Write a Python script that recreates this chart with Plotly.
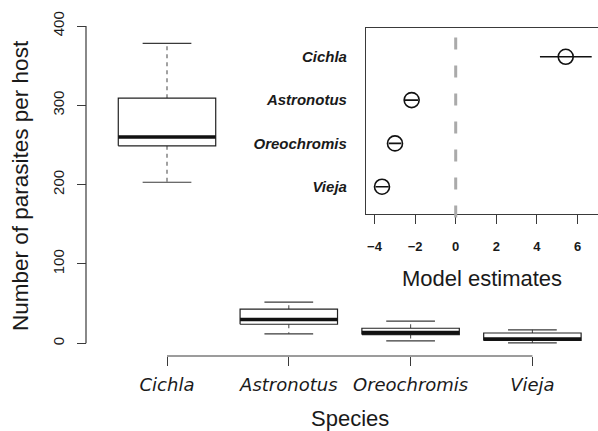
import plotly.graph_objects as go

# ---------------- data ----------------
species = ["Cichla", "Astronotus", "Oreochromis", "Vieja"]
box_lower = [203, 12, 3, 0.5]
box_q1 = [249, 24, 11, 3.5]
box_median = [260, 30, 13.5, 5.5]
box_q3 = [309, 43, 19, 13]
box_upper = [378, 52, 28, 17]

inset_species = ["Cichla", "Astronotus", "Oreochromis", "Vieja"]
est = [5.42, -2.17, -2.99, -3.63]
est_lo = [4.15, -2.5, -3.3, -3.95]
est_hi = [6.7, -1.85, -2.68, -3.3]
inset_ticks = [-4, -2, 0, 2, 4, 6]
y_ticks = [0, 100, 200, 300, 400]

W, H = 598, 431
def px(x):
    return x / W
def py(y):
    return 1 - y / H

TXT = "#1a1a1a"
LINE = "#3a3a3a"
SANS = "Liberation Sans, Arial, sans-serif"

fig = go.Figure()

# ---------------- main boxplots ----------------
hw, cw = 0.4, 0.2
for i, sp in enumerate(species):
    # whiskers (dashed)
    fig.add_trace(go.Scatter(
        x=[i, i, None, i, i],
        y=[box_q3[i], box_upper[i], None, box_q1[i], box_lower[i]],
        mode="lines", line=dict(color="#555555", width=1.1, dash="4px,4px"),
        hoverinfo="skip", showlegend=False, xaxis="x", yaxis="y"))
    # caps
    fig.add_trace(go.Scatter(
        x=[i - cw, i + cw, None, i - cw, i + cw],
        y=[box_upper[i], box_upper[i], None, box_lower[i], box_lower[i]],
        mode="lines", line=dict(color=LINE, width=1.2),
        hoverinfo="skip", showlegend=False, xaxis="x", yaxis="y"))
    # box
    fig.add_trace(go.Scatter(
        x=[i - hw, i + hw, i + hw, i - hw, i - hw],
        y=[box_q1[i], box_q1[i], box_q3[i], box_q3[i], box_q1[i]],
        mode="lines", fill="toself", fillcolor="white",
        line=dict(color="#222222", width=1.2),
        hoverinfo="skip", showlegend=False, xaxis="x", yaxis="y"))
    # median
    fig.add_trace(go.Scatter(
        x=[i - hw, i + hw], y=[box_median[i], box_median[i]],
        mode="lines", line=dict(color="#111111", width=3.5),
        hoverinfo="skip", showlegend=False, xaxis="x", yaxis="y"))

# ---------------- inset: model estimates ----------------
ypos = [4, 3, 2, 1]
fig.add_trace(go.Scatter(
    x=est, y=ypos, mode="markers",
    marker=dict(symbol="circle-open", size=15, color="#111111",
                line=dict(width=1.6, color="#111111")),
    error_x=dict(type="data", symmetric=False,
                 array=[h - e for h, e in zip(est_hi, est)],
                 arrayminus=[e - l for e, l in zip(est, est_lo)],
                 width=0, thickness=1.6, color="#111111"),
    hoverinfo="skip", showlegend=False, xaxis="x2", yaxis="y2"))

# ---------------- axes geometry ----------------
x_c0, x_step = 167.0, 121.8
xr = [-x_c0 / x_step, (W - x_c0) / x_step]
y_zero, y_400 = 343.3, 26.0
ppu = (y_zero - y_400) / 400
yr = [-(H - y_zero) / ppu, y_zero / ppu]

ix_l, ix_r = 366.0, 598.0
ix_0, ix_unit = 455.7, 20.3
x2r = [(ix_l - ix_0) / ix_unit, (ix_r - ix_0) / ix_unit]
iy_top, iy_bot = 27.7, 214.0
iy_1, iy_step = 186.7, 43.3
y2r = [1 - (iy_bot - iy_1) / iy_step, 1 + (iy_1 - iy_top) / iy_step]

shapes = [
    # main x axis line
    dict(type="line", xref="x", yref="paper", x0=0, x1=len(species) - 1,
         y0=py(356), y1=py(356), line=dict(color=LINE, width=1.2)),
    # main y axis line
    dict(type="line", xref="paper", yref="y", x0=px(86), x1=px(86),
         y0=y_ticks[0], y1=y_ticks[-1], line=dict(color=LINE, width=1.2)),
    # dashed zero line in inset
    dict(type="line", xref="x2", yref="y2 domain", x0=0, x1=0,
         y0=-(217.6 - iy_bot) / (iy_bot - iy_top), y1=1,
         line=dict(color="#aaaaaa", width=3, dash="12px,16px")),
]

annotations = [
    dict(text="Species", xref="x", yref="paper",
         x=(len(species) - 1) / 2, y=py(418), xanchor="center", yanchor="middle",
         showarrow=False, font=dict(family=SANS, size=22, color=TXT)),
    dict(text="Number of parasites per host", xref="paper", yref="paper",
         x=px(20), y=py(186), xanchor="center", yanchor="middle", textangle=-90,
         showarrow=False, font=dict(family=SANS, size=22.5, color=TXT)),
]

fig.update_layout(
    width=W, height=H,
    margin=dict(l=0, r=0, t=0, b=0),
    paper_bgcolor="white", plot_bgcolor="rgba(0,0,0,0)",
    font=dict(family=SANS, color=TXT),
    showlegend=False,
    shapes=shapes,
    annotations=annotations,
    xaxis=dict(
        domain=[0, 1], range=xr, anchor="free", position=py(356),
        showline=False, showgrid=False, zeroline=False,
        tickmode="array", tickvals=list(range(len(species))), ticktext=species,
        ticks="outside", ticklen=9, tickwidth=1.2, tickcolor=LINE,
        tickfont=dict(family="DejaVu Sans", size=18, style="italic", color=TXT),
        ticklabelstandoff=3,
    ),
    yaxis=dict(
        domain=[0, 1], range=yr, anchor="free", position=px(86),
        showline=False, showgrid=False, zeroline=False,
        tickmode="array", tickvals=y_ticks,
        ticks="outside", ticklen=9, tickwidth=1.2, tickcolor=LINE,
        tickangle=-90,
        tickfont=dict(family=SANS, size=15, color=TXT),
        ticklabelstandoff=7,
    ),
    xaxis2=dict(
        domain=[px(ix_l), 1], range=x2r, anchor="y2",
        showline=True, mirror=True, linecolor=LINE, linewidth=1.2,
        showgrid=False, zeroline=False,
        tickmode="array", tickvals=inset_ticks,
        ticks="outside", ticklen=9, tickwidth=1.2, tickcolor=LINE,
        tickfont=dict(family=SANS, size=13, weight="bold", color=TXT),
        ticklabelstandoff=11,
        title=dict(text="Model estimates", font=dict(family=SANS, size=22, color=TXT),
                   standoff=17),
    ),
    yaxis2=dict(
        domain=[py(iy_bot), py(iy_top)], range=y2r, anchor="x2",
        showline=True, linecolor=LINE, linewidth=1.2,
        showgrid=False, zeroline=False,
        tickmode="array", tickvals=ypos, ticktext=inset_species,
        ticks="",
        tickfont=dict(family=SANS, size=15, weight="bold", style="italic", color=TXT),
        ticklabelstandoff=15,
    ),
)

fig.write_html("out.html", config={"displayModeBar": False},
               post_script="document.body.style.margin='0px';")
